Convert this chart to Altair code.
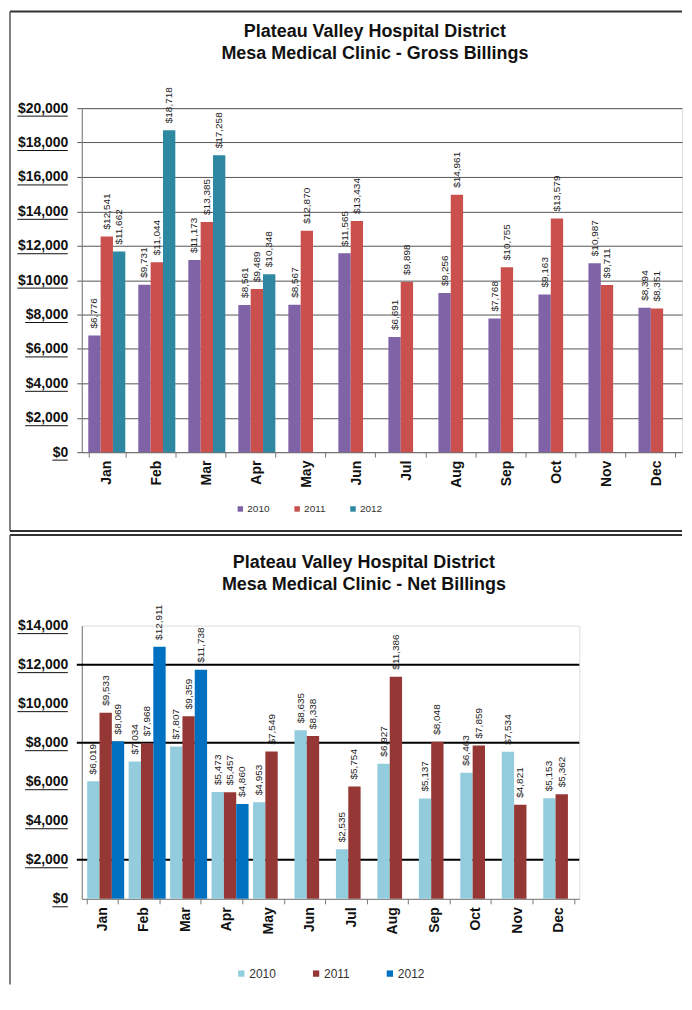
import altair as alt
import pandas as pd

FONT = "Liberation Sans"

months = ["Jan", "Feb", "Mar", "Apr", "May", "Jun", "Jul", "Aug", "Sep", "Oct", "Nov", "Dec"]
years = ["2010", "2011", "2012"]

gross_2010 = [6776, 9731, 11173, 8561, 8567, 11565, 6691, 9256, 7768, 9163, 10987, 8394]
gross_2011 = [12541, 11044, 13385, 9489, 12870, 13434, 9898, 14961, 10755, 13579, 9711, 8351]
gross_2012 = [11662, 18718, 17258, 10348]

net_2010 = [6019, 7034, 7807, 5473, 4953, 8635, 2535, 6927, 5137, 6463, 7534, 5153]
net_2011 = [9533, 7968, 9359, 5457, 7549, 8338, 5754, 11386, 8048, 7859, 4821, 5362]
net_2012 = [8069, 12911, 11738, 4860]

gross_ticks = list(range(0, 20001, 2000))
net_ticks = list(range(0, 14001, 2000))
net_gridlines = [2000, 8000, 12000]

gross_colors = ["#7F63A6", "#C9504C", "#2F88A2"]
net_colors = ["#93CDDD", "#953735", "#0070C0"]

title_gross = ["Plateau Valley Hospital District", "Mesa Medical Clinic - Gross Billings"]
title_net = ["Plateau Valley Hospital District", "Mesa Medical Clinic - Net Billings"]


def long_df(series):
    rows = []
    for y, vals in zip(years, series):
        for m, v in zip(months, vals):
            rows.append({"month": m, "year": y, "value": v})
    return pd.DataFrame(rows)


def underline_df(ticks, fs, offset):
    rows = []
    for t in ticks:
        lab = "${:,}".format(t)
        w = sum(0.278 if c == "," else 0.556 for c in lab) * fs
        rows.append({"value": t, "ux1": -offset - w, "ux2": -offset})
    return pd.DataFrame(rows)


one = pd.DataFrame({"k": [0]})


def panel(df, colors, ticks, dmax, W, H, title, title_x, title_y,
          leg_x, leg_y, leg_fs, leg_pad, leg_sym, frame, grid_all, gridlines=None,
          label_fs=10, bottom_line=None):
    x_axis = alt.Axis(title=None, labelAngle=-90, labelFontSize=14,
                      labelFontWeight="bold", labelFont=FONT, labelColor="#111",
                      tickBand="extent", tickSize=5, labelPadding=3,
                      domainColor="#777", tickColor="#777", grid=False)
    x_scale = alt.Scale(paddingInner=0.26, paddingOuter=0.13)
    y_axis = alt.Axis(title=None, values=ticks, format="$,.0f", labelFontSize=14,
                      labelFontWeight="bold", labelFont=FONT, labelColor="#111",
                      labelOverlap=False,
                      tickSize=5, labelPadding=9, domainColor="#777",
                      tickColor="#555" if grid_all else "transparent",
                      grid=grid_all, gridColor="#555", gridWidth=1)
    y_scale = alt.Scale(domain=[0, dmax], nice=False)
    y_enc = alt.Y("value:Q", scale=y_scale, axis=y_axis)
    x_enc = alt.X("month:N", sort=months, scale=x_scale, axis=x_axis)
    xo = alt.XOffset("year:N", scale=alt.Scale(domain=years, paddingInner=0, paddingOuter=0))
    color = alt.Color("year:N", scale=alt.Scale(domain=years, range=colors),
                      legend=alt.Legend(orient="none", legendX=leg_x, legendY=leg_y,
                                        direction="horizontal", title=None,
                                        symbolType="square", symbolSize=leg_sym,
                                        symbolStrokeWidth=0, labelFontSize=leg_fs,
                                        labelFont=FONT, labelColor="#333",
                                        columnPadding=leg_pad, labelOffset=2))
    base = alt.Chart(df)
    bars = base.mark_bar().encode(x=x_enc, xOffset=xo, y=y_enc, color=color)
    labels = base.mark_text(angle=270, align="left", baseline="middle", dx=7,
                            fontSize=label_fs, font=FONT, color="#222").encode(
        x=x_enc, xOffset=xo, y=y_enc, text=alt.Text("value:Q", format="$,.0f"))
    ul = alt.Chart(underline_df(ticks, 14, 14)).mark_rule(yOffset=8, color="#111", strokeWidth=1).encode(
        x=alt.X("ux1:Q", scale=None), x2="ux2:Q", y=y_enc)
    layers = [bars]
    if gridlines is not None:
        gl = alt.Chart(pd.DataFrame({"value": gridlines})).mark_rule(color="#000", strokeWidth=2).encode(
            y=y_enc, x=alt.value(-5), x2=alt.value(W))
        layers = [gl, bars]
    layers += [labels, ul]
    ttl = alt.Chart(one).mark_text(text=title, fontSize=18, font=FONT, fontWeight="bold",
                                   color="#111", align="center", baseline="middle",
                                   lineHeight=22).encode(
        x=alt.value(title_x), y=alt.value(title_y))
    layers.append(ttl)
    fl, ft, fb, fr = frame
    layers.append(alt.Chart(one).mark_rule(color="#333", strokeWidth=2).encode(
        x=alt.value(fl), x2=alt.value(fr), y=alt.value(ft)))
    layers.append(alt.Chart(one).mark_rule(color="#555", strokeWidth=1.5).encode(
        x=alt.value(fl), y=alt.value(ft), y2=alt.value(fb)))
    if bottom_line is not None:
        layers.append(alt.Chart(one).mark_rule(color="#333", strokeWidth=2).encode(
            x=alt.value(fl), x2=alt.value(fr), y=alt.value(bottom_line)))
    return alt.layer(*layers).properties(width=W, height=H)


W1, H1 = 602, 345
W2, H2 = 499, 274
FL, FR = -72, 602

top = panel(long_df([gross_2010, gross_2011, gross_2012]), gross_colors, gross_ticks, 20000,
            W1, H1, title_gross, 294, -76, 154, 397, 10, 22, 30,
            (FL, -97, 424, FR), True, bottom_line=424)

bottom = panel(long_df([net_2010, net_2011, net_2012]), net_colors, net_ticks, 14000,
               W2, H2, title_net, 283, -63, 154, 343, 12, 34, 40,
               (FL, -91, 360, FR), False, gridlines=net_gridlines)

chart = alt.vconcat(top, bottom, spacing=0).resolve_scale(
    color="independent").properties(padding=0).configure_view(
    stroke="#999", fill="#C0C0C0").configure(background="white")

chart.save("out.html", embed_options={"renderer": "svg", "actions": False})
